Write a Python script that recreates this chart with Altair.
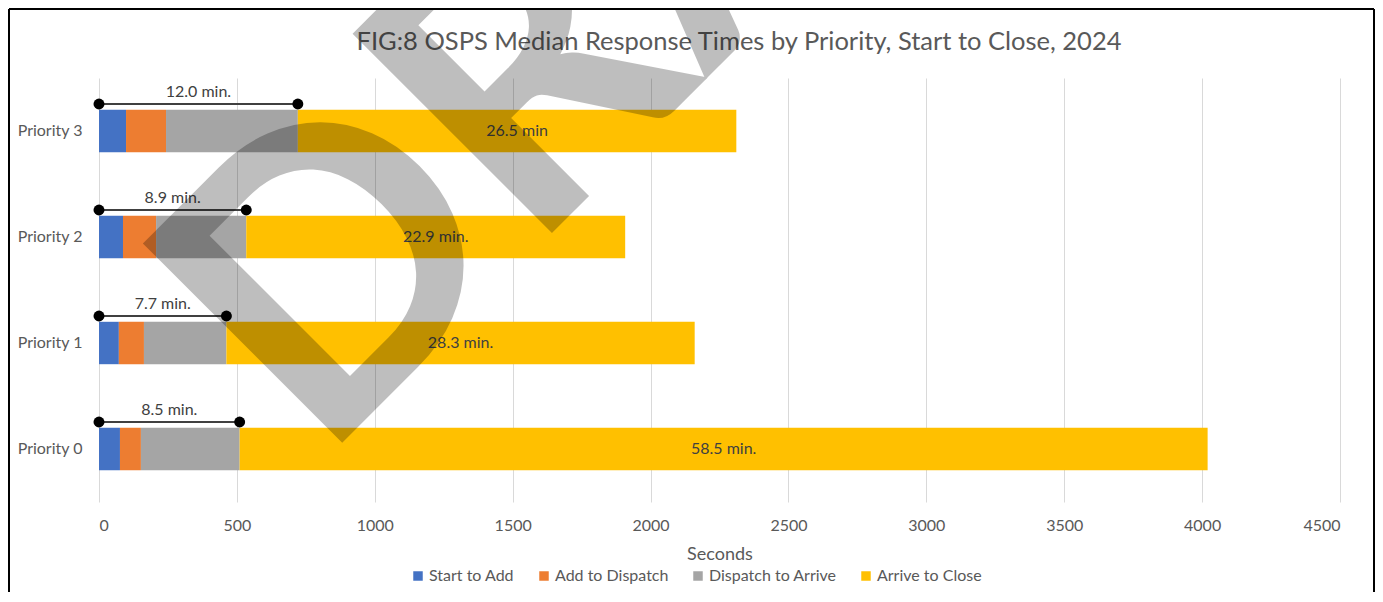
import altair as alt
import pandas as pd

priorities = ["Priority 3", "Priority 2", "Priority 1", "Priority 0"]
segments = ["Start to Add", "Add to Dispatch", "Dispatch to Arrive", "Arrive to Close"]
colors = ["#4472C4", "#ED7D31", "#A5A5A5", "#FFC000"]

start_to_add = [98, 87, 72, 76]
add_to_dispatch = [145, 120, 91, 76]
dispatch_to_arrive = [478, 327, 299, 358]
arrive_to_close = [1590, 1374, 1698, 3510]

arrive_labels = ["12.0 min.", "8.9 min.", "7.7 min.", "8.5 min."]
close_labels = ["26.5 min", "22.9 min.", "28.3 min.", "58.5 min."]

title_text = "FIG:8 OSPS Median Response Times by Priority, Start to Close, 2024"
watermark_text = "DRAFT"

series = [start_to_add, add_to_dispatch, dispatch_to_arrive, arrive_to_close]
rows = []
for si, (seg, vals) in enumerate(zip(segments, series)):
    for p, v in zip(priorities, vals):
        rows.append({"priority": p, "segment": seg, "seconds": v, "order": si})
bars_df = pd.DataFrame(rows)

ann = []
for i, p in enumerate(priorities):
    arrive = start_to_add[i] + add_to_dispatch[i] + dispatch_to_arrive[i]
    total = arrive + arrive_to_close[i]
    ann.append({
        "priority": p,
        "zero": 0,
        "arrive": arrive,
        "arrive_mid": arrive / 2,
        "close_mid": (arrive + total) / 2,
        "arrive_label": arrive_labels[i],
        "close_label": close_labels[i],
    })
ann_df = pd.DataFrame(ann)

FONT = "Lato"
GREY = "#595959"
W, H = 1241, 424

xscale = alt.Scale(domain=[0, 4500], nice=False)
yscale = alt.Scale(domain=priorities, paddingInner=0.6, paddingOuter=0.3)

bars = alt.Chart(bars_df).mark_bar().encode(
    x=alt.X("seconds:Q", stack="zero", scale=xscale,
            axis=alt.Axis(title="Seconds", values=list(range(0, 4501, 500)), format="d",
                          grid=True, gridColor="#D9D9D9", gridWidth=1,
                          domain=False, ticks=False, labelPadding=15,
                          labelFontSize=16, labelColor=GREY, labelFont=FONT,
                          titleFontSize=18, titleColor=GREY, titleFont=FONT,
                          titleFontWeight="normal", titlePadding=12)),
    y=alt.Y("priority:N", scale=yscale, sort=priorities,
            axis=alt.Axis(title=None, domain=False, ticks=False, grid=False,
                          labelPadding=17, labelFontSize=16, labelColor=GREY,
                          labelFont=FONT)),
    color=alt.Color("segment:N", scale=alt.Scale(domain=segments, range=colors),
                    legend=alt.Legend(title=None, orient="none", direction="horizontal",
                                      legendX=311, legendY=490,
                                      symbolType="square", symbolSize=90,
                                      symbolStrokeWidth=0, labelFontSize=16,
                                      labelColor=GREY, labelFont=FONT,
                                      columnPadding=21, labelOffset=3)),
    order=alt.Order("order:Q"),
)

bracket = alt.Chart(ann_df).mark_rule(color="#404040", strokeWidth=2, yOffset=-27).encode(
    x="zero:Q", x2="arrive:Q", y=alt.Y("priority:N", sort=priorities),
)
dots_l = alt.Chart(ann_df).mark_point(filled=True, color="black", size=120, opacity=1,
                                      yOffset=-27).encode(
    x="zero:Q", y=alt.Y("priority:N", sort=priorities))
dots_r = alt.Chart(ann_df).mark_point(filled=True, color="black", size=120, opacity=1,
                                      yOffset=-27).encode(
    x="arrive:Q", y=alt.Y("priority:N", sort=priorities))
arrive_txt = alt.Chart(ann_df).mark_text(font=FONT, fontSize=16, color="#404040",
                                         yOffset=-39, baseline="middle").encode(
    x="arrive_mid:Q", y=alt.Y("priority:N", sort=priorities), text="arrive_label:N")
close_txt = alt.Chart(ann_df).mark_text(font=FONT, fontSize=16, color="#404040",
                                        baseline="middle").encode(
    x="close_mid:Q", y=alt.Y("priority:N", sort=priorities), text="close_label:N")

one = pd.DataFrame({"k": [0]})
title = alt.Chart(one).mark_text(
    text=title_text, font=FONT, fontSize=25.5, color=GREY,
    align="center", baseline="middle",
).encode(x=alt.value(640), y=alt.value(-36))

watermark = alt.Chart(one).mark_text(
    text=watermark_text, font=FONT, fontWeight="bold", fontSize=390, angle=315,
    align="left", baseline="alphabetic", color="black", opacity=0.25,
).encode(x=alt.value(221), y=alt.value(387))

border_l = alt.Chart(one).mark_rule(color="black", strokeWidth=2).encode(
    x=alt.value(-90), y=alt.value(-69), y2=alt.value(520))
border_t = alt.Chart(one).mark_rule(color="black", strokeWidth=2).encode(
    x=alt.value(-90), x2=alt.value(1275), y=alt.value(-69))
border_r = alt.Chart(one).mark_rule(color="black", strokeWidth=2).encode(
    x=alt.value(1275), y=alt.value(-69), y2=alt.value(520))

chart = alt.layer(
    bars, bracket, dots_l, dots_r, arrive_txt, close_txt, title, watermark,
    border_l, border_t, border_r,
).properties(
    width=W, height=H,
    autosize=alt.AutoSizeParams(type="none"),
    padding={"left": 91, "top": 70, "right": 35, "bottom": 90},
).configure_view(stroke=None)

chart.save("out.html", embed_options={"renderer": "svg", "actions": False})
